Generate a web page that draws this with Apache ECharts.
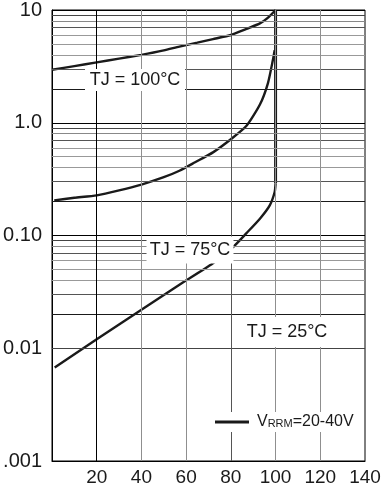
<!DOCTYPE html>
<html><head><meta charset="utf-8">
<script src="https://cdn.jsdelivr.net/npm/echarts@6/dist/echarts.min.js"></script>
<style>html,body{margin:0;padding:0;background:#fff}#c{width:387px;height:493px}</style>
</head><body><div id="c"></div>
<script>
// ---- data ----
const curve100X = [0, 10, 20, 30, 40, 50, 57, 65, 72, 80, 87, 93, 96.5, 100];
const curve100Y = [2.95, 3.18, 3.43, 3.7, 4.0, 4.38, 4.74, 5.14, 5.52, 6.0, 6.8, 7.6, 8.5, 10];
const curve75X = [1, 10, 20, 30, 40, 50, 57, 64, 72, 80, 87, 93, 96.6, 98.8, 99.6];
const curve75Y = [0.205, 0.216, 0.227, 0.251, 0.283, 0.329, 0.375, 0.446, 0.546, 0.714, 0.94, 1.45, 2.25, 3.6, 4.4];
const curve25X = [1.2, 20, 40, 57, 72, 81, 87, 93, 97.4, 99.6, 100];
const curve25Y = [0.00675, 0.012, 0.022, 0.0366, 0.0567, 0.079, 0.105, 0.141, 0.185, 0.243, 0.29];
const riseX = [100, 100];
const riseY = [0.29, 10];
const xTickValues = [0, 20, 40, 60, 80, 100, 120, 140];
const xTickLabels = ['', '20', '40', '60', '80', '100', '120', '140'];
const yTickValues = [0.001, 0.01, 0.1, 1, 10];
const yTickLabels = ['.001', '0.01', '0.10', '1.0', '10'];
const minorMultipliers = [2, 3, 4, 5, 6, 7, 8, 9];
const curveNames = ['TJ = 100°C', 'TJ = 75°C', 'TJ = 25°C'];
const legendName = 'VRRM=20-40V';

// ---- styling ----
const FONT = "'Liberation Sans', Arial, sans-serif";
const minorColors = {2: '#1a1a1a', 3: '#555', 4: '#999', 5: '#999', 6: '#999', 7: '#555', 8: '#888', 9: '#444'};
const vColors = {20: '#000', 40: '#8f8f8f', 60: '#8f8f8f', 80: '#555', 100: '#8f8f8f', 120: '#8f8f8f'};

const pairs = (xs, ys) => xs.map((x, i) => [x, ys[i]]);

const gridLines = [];
yTickValues.slice(0, -1).forEach(d => {
  minorMultipliers.forEach(m => {
    gridLines.push({yAxis: d * m, lineStyle: {color: minorColors[m], width: 1, type: 'solid'}});
  });
});
xTickValues.slice(1, -1).forEach(v => {
  gridLines.push({xAxis: v, lineStyle: {color: vColors[v], width: 1, type: 'solid'}});
});

const lineStyle = {color: '#1a1a1a', width: 2.4};
function curve(data, smooth) {
  return {
    name: legendName, type: 'line', data, showSymbol: false, symbol: 'none',
    smooth: smooth, lineStyle, itemStyle: {color: '#1a1a1a'}, z: 3, animation: false
  };
}

const chart = echarts.init(document.getElementById('c'), null, {renderer: 'canvas'});

function box(cx, cy, w, h, text) {
  return {
    type: 'group', z: 50,
    children: [
      {type: 'rect', shape: {x: cx - w / 2, y: cy - h / 2, width: w, height: h}, style: {fill: '#fff'}, z: 50},
      {type: 'text', x: cx, y: cy, z: 51, style: {text, font: '18px ' + FONT, fill: '#1a1a1a', align: 'center', verticalAlign: 'middle'}}
    ]
  };
}

chart.setOption({
  animation: false,
  backgroundColor: '#fff',
  grid: {left: 52, right: 22, top: 6.5, bottom: 32, show: true, borderColor: '#000', borderWidth: 1, backgroundColor: 'transparent'},
  xAxis: {
    type: 'value', min: 0, max: 140, interval: 20,
    axisLine: {show: true, lineStyle: {color: '#000', width: 1}},
    axisTick: {show: false},
    splitLine: {show: false},
    axisLabel: {
      margin: 7, color: '#1a1a1a', fontFamily: FONT, fontSize: 19,
      showMinLabel: true, showMaxLabel: true,
      formatter: v => xTickLabels[xTickValues.indexOf(v)] ?? ''
    }
  },
  yAxis: {
    type: 'log', logBase: 10, min: 0.001, max: 10,
    axisLine: {show: true, lineStyle: {color: '#000', width: 1}},
    axisTick: {show: false},
    splitLine: {show: true, lineStyle: {color: '#000', width: 1}},
    axisLabel: {
      margin: 10, color: '#1a1a1a', fontFamily: FONT, fontSize: 20,
      verticalAlign: 'middle', padding: [10, 0, 0, 0],
      showMinLabel: true, showMaxLabel: true,
      formatter: v => {
        const i = yTickValues.findIndex(t => Math.abs(Math.log10(t) - Math.log10(v)) < 1e-6);
        return i >= 0 ? yTickLabels[i] : '';
      }
    }
  },
  legend: {
    data: [legendName], left: 212, top: 412, orient: 'horizontal',
    backgroundColor: '#fff', padding: [2, 6, 2, 3], z: 60,
    icon: 'rect', itemWidth: 34, itemHeight: 3, itemGap: 0,
    selectedMode: false,
    textStyle: {
      color: '#1a1a1a', fontFamily: FONT, fontSize: 16,
      rich: {
        v0: {fontFamily: FONT, fontSize: 16, color: '#1a1a1a', lineHeight: 16, verticalAlign: 'bottom', padding: [0, 0, 0, 3]},
        v: {fontFamily: FONT, fontSize: 16, color: '#1a1a1a', lineHeight: 16, verticalAlign: 'bottom'},
        s: {fontFamily: FONT, fontSize: 11, color: '#1a1a1a', lineHeight: 16, verticalAlign: 'bottom', padding: [0, 0, 1, 0]}
      }
    },
    formatter: () => '{v0|V}{s|RRM}{v|=20-40V}'
  },
  series: [
    {
      type: 'line', data: [], silent: true, z: 1,
      markLine: {silent: true, symbol: 'none', label: {show: false}, animation: false, data: gridLines}
    },
    curve(pairs(curve100X, curve100Y), 0.2),
    curve(pairs(curve75X, curve75Y), 0.2),
    curve(pairs(curve25X, curve25Y), 0.2),
    Object.assign(curve(pairs(riseX, riseY), false), {lineStyle: {color: '#1a1a1a', width: 3}})
  ],
  graphic: [
    box(135, 80, 100, 22, curveNames[0]),
    box(190, 250, 87, 27, curveNames[1]),
    box(287, 332, 86, 30, curveNames[2])
  ]
});
</script>
</body></html>
